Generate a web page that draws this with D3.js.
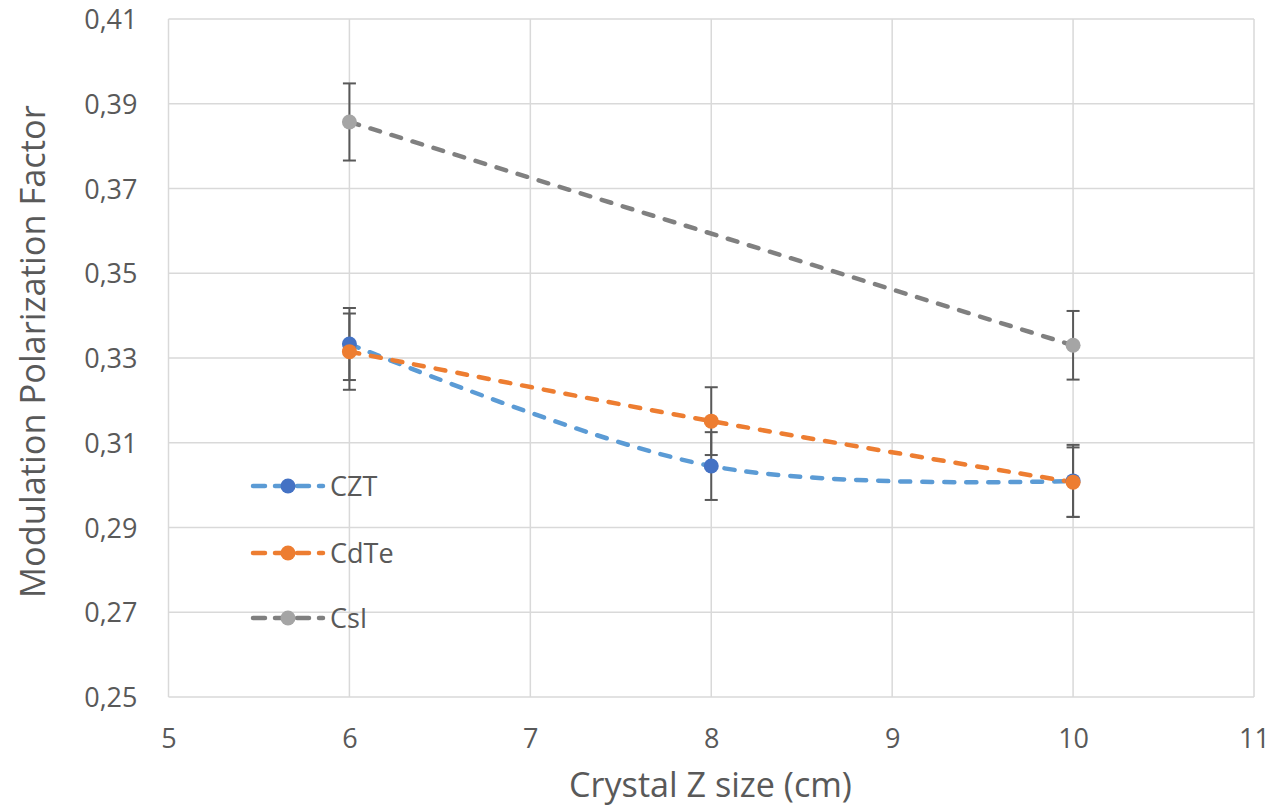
<!DOCTYPE html>
<html>
<head>
<meta charset="utf-8">
<script src="https://cdn.jsdelivr.net/npm/d3@7"></script>
<style>
  body { margin: 0; background: #fff; }
  svg text { font-family: "Open Sans", sans-serif; fill: #595959; }
</style>
</head>
<body>
<div id="chart"></div>
<script>
// values
var seriesNames = ["CZT", "CdTe", "CsI"];
var cztX = [6, 8, 10];
var cztY = [0.3333, 0.3045, 0.3010];
var cztErr = [0.0085, 0.0080, 0.0085];
var cdteX = [6, 8, 10];
var cdteY = [0.3315, 0.3151, 0.3007];
var cdteErr = [0.0090, 0.0080, 0.0082];
var csiX = [6, 10];
var csiY = [0.3857, 0.3330];
var csiErr = [0.0091, 0.0081];
var xTicks = [5, 6, 7, 8, 9, 10, 11];
var yTicks = [0.25, 0.27, 0.29, 0.31, 0.33, 0.35, 0.37, 0.39, 0.41];

var lineColors = ["#5B9BD5", "#ED7D31", "#808080"];
var markColors = ["#4472C4", "#ED7D31", "#A5A5A5"];

var series = [
  { name: seriesNames[0], xs: cztX, ys: cztY, err: cztErr },
  { name: seriesNames[1], xs: cdteX, ys: cdteY, err: cdteErr },
  { name: seriesNames[2], xs: csiX, ys: csiY, err: csiErr }
];

var width = 1274, height = 809;
var margin = { top: 19, left: 168.5 };
var w = 1254 - margin.left, h = 697 - margin.top;

var svg = d3.select("#chart").append("svg")
  .attr("width", width).attr("height", height);
var g = svg.append("g")
  .attr("transform", "translate(" + margin.left + "," + margin.top + ")");

var x = d3.scaleLinear().domain([5, 11]).range([0, w]);
var y = d3.scaleLinear().domain([0.25, 0.41]).range([h, 0]);

// gridlines
g.selectAll(".hgrid").data(yTicks).enter().append("line")
  .attr("x1", 0).attr("x2", w)
  .attr("y1", function (d) { return y(d); })
  .attr("y2", function (d) { return y(d); })
  .attr("stroke", "#D9D9D9").attr("stroke-width", 1.5);
g.selectAll(".vgrid").data(xTicks).enter().append("line")
  .attr("y1", 0).attr("y2", h)
  .attr("x1", function (d) { return x(d); })
  .attr("x2", function (d) { return x(d); })
  .attr("stroke", "#D9D9D9").attr("stroke-width", 1.5);

// axes
var fmt = function (d) { return d3.format(".2f")(d).replace(".", ","); };
var yAxis = g.append("g").call(d3.axisLeft(y).tickValues(yTicks).tickFormat(fmt).tickSize(0).tickPadding(31));
var xAxis = g.append("g").attr("transform", "translate(0," + h + ")")
  .call(d3.axisBottom(x).tickValues(xTicks).tickFormat(d3.format("d")).tickSize(0).tickPadding(0));
[xAxis, yAxis].forEach(function (a) {
  a.select(".domain").remove();
  a.selectAll("text").style("font-size", "27px").attr("fill", "#595959");
});
yAxis.selectAll("text").attr("dy", "0.36em");
xAxis.selectAll("text").attr("dy", 0).attr("y", 51);

// size a title so it spans the same length as in the picture
function fitText(sel, target) {
  var len = sel.node().getComputedTextLength();
  var fs = parseFloat(sel.style("font-size"));
  sel.style("font-size", (fs * target / len) + "px");
}

var xt = svg.append("text")
  .attr("x", 710.5).attr("y", 797)
  .attr("text-anchor", "middle")
  .style("font-size", "30px")
  .text("Crystal Z size (cm)");
fitText(xt, 283);
var yt = svg.append("text")
  .attr("transform", "translate(45,351.5) rotate(-90)")
  .attr("text-anchor", "middle")
  .style("font-size", "30px")
  .text("Modulation Polarization Factor");
fitText(yt, 493);

// lines
var line = d3.line()
  .x(function (d) { return x(d[0]); })
  .y(function (d) { return y(d[1]); })
  .curve(d3.curveCardinal.tension(0));

series.forEach(function (s, i) {
  var pts = s.xs.map(function (v, j) { return [v, s.ys[j]]; });
  g.append("path").datum(pts)
    .attr("d", line)
    .attr("fill", "none")
    .attr("stroke", lineColors[i])
    .attr("stroke-width", 4.5)
    .attr("stroke-dasharray", "10 12")
    .attr("stroke-linecap", "round");
});

// error bars
series.forEach(function (s) {
  var eg = g.append("g");
  s.xs.forEach(function (v, j) {
    var cx = x(v), lo = y(s.ys[j] - s.err[j]), hi = y(s.ys[j] + s.err[j]);
    eg.append("line").attr("x1", cx).attr("x2", cx).attr("y1", lo).attr("y2", hi)
      .attr("stroke", "#595959").attr("stroke-width", 2);
    [lo, hi].forEach(function (yy) {
      eg.append("line").attr("x1", cx - 6.5).attr("x2", cx + 6.5).attr("y1", yy).attr("y2", yy)
        .attr("stroke", "#595959").attr("stroke-width", 2);
    });
  });
});

// markers
series.forEach(function (s, i) {
  g.selectAll(".m" + i).data(s.xs).enter().append("circle")
    .attr("cx", function (d) { return x(d); })
    .attr("cy", function (d, j) { return y(s.ys[j]); })
    .attr("r", 7.5)
    .attr("fill", markColors[i]);
});

// legend
var legY = [486, 553, 618];
series.forEach(function (s, i) {
  var lg = svg.append("g").attr("transform", "translate(253," + legY[i] + ")");
  lg.append("line").attr("x1", 0).attr("x2", 70).attr("y1", 0).attr("y2", 0)
    .attr("stroke", lineColors[i]).attr("stroke-width", 4.5)
    .attr("stroke-dasharray", "12 10").attr("stroke-linecap", "round");
  lg.append("circle").attr("cx", 35).attr("cy", 0).attr("r", 7.5).attr("fill", markColors[i]);
  lg.append("text").attr("x", 77).attr("y", 10).style("font-size", "27px").text(s.name);
});
</script>
</body>
</html>
